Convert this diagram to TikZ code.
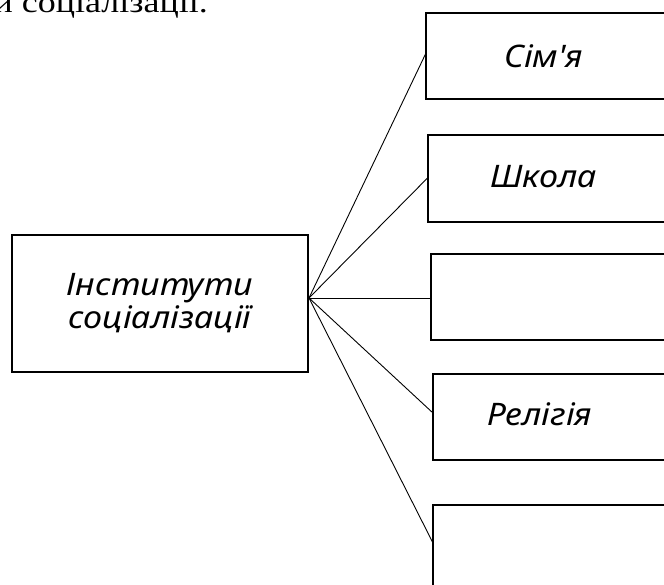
\documentclass[tikz,border=0pt]{standalone}
\usepackage{fontspec}
\setmainfont{Liberation Serif}[FakeStretch=1.2]
\newfontfamily\boxfont{Noto Sans}[ItalicFeatures={FakeStretch=1.1}]
\begin{document}
\begin{tikzpicture}[x=1pt,y=-1pt,
  box/.style={draw, line width=1.4pt, inner sep=0pt, outer sep=0pt, rectangle},
  boxfontstyle/.style={font=\boxfont\itshape\fontsize{31}{33}\selectfont},
  boxtext/.style={boxfontstyle, inner sep=0pt, anchor=base west},
  link/.style={line width=0.9pt}]
\clip (0,0) rectangle (664,584);
\fill[white] (0,0) rectangle (664,584);
% caption fragment
\node[font=\fontsize{30}{33}\selectfont, inner sep=0pt, anchor=base east] (cap) at (208,12) {и соціалізації.};
% main box
\node[box, minimum width=296pt, minimum height=137pt] (main) at (160,303.5) {};
\node[boxfontstyle, align=center, inner sep=0pt, anchor=base] (mt) at (160,328) {Інститути\\соціалізації};
% right boxes
\node[box, anchor=north west, minimum width=270pt, minimum height=86pt] (b1) at (426,13) {};
\node[box, anchor=north west, minimum width=270pt, minimum height=87pt] (b2) at (428,135) {};
\node[box, anchor=north west, minimum width=270pt, minimum height=86pt] (b3) at (431,254) {};
\node[box, anchor=north west, minimum width=270pt, minimum height=86pt] (b4) at (433,374) {};
\node[box, anchor=north west, minimum width=270pt, minimum height=120pt] (b5) at (433,505) {};
% texts
\node[boxtext] (t1) at (504,67) {Сім'я};
\node[boxtext] (t2) at (490,187) {Школа};
\node[boxtext] (t4) at (487,425) {Релігія};
% connectors
\coordinate (hub) at (309,298);
\draw[link] (hub) -- ([yshift=3pt]b1.west);
\draw[link] (hub) -- ([yshift=1pt]b2.west);
\draw[link] (hub) -- ([yshift=-1pt]b3.west);
\draw[link] (hub) -- ([yshift=4pt]b4.west);
\draw[link] (hub) -- ([yshift=-38pt]b5.north west);
\end{tikzpicture}
\end{document}
